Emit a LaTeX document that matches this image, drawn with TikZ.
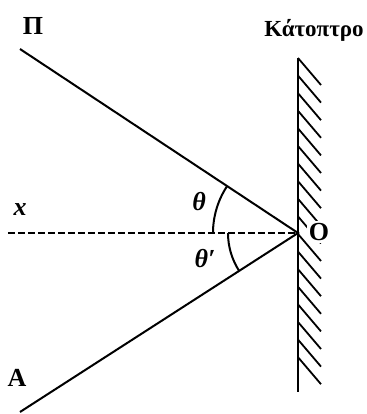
\documentclass[tikz,border=0pt]{standalone}
\usepackage{fontspec}
\setmainfont{Liberation Serif}
\usetikzlibrary{positioning}

\begin{document}
\begin{tikzpicture}[
x=0.5pt,y=0.5pt,
ray/.style={line width=1pt},
hatch/.style={line width=0.9pt},
axis/.style={line width=1.3pt,dash pattern=on 3.5pt off 1.5pt},
lbl/.style={font=\fontsize{13}{15}\selectfont\bfseries,inner sep=1pt},
ang/.style={font=\fontsize{13}{15}\selectfont\bfseries\itshape,inner sep=1pt}
]
\useasboundingbox (0,0) rectangle (366,414);
\coordinate (O) at (298,181);
\coordinate (P) at (20,365);
\coordinate (A) at (20,2);
\coordinate (X) at (8,181);
\coordinate (mtop) at (298,356);
\coordinate (mbot) at (298,22);

% mirror
\draw[ray] (mtop) -- (mbot);
\foreach \y in {356,338.4,...,50}
  \draw[hatch] (298,\y) -- ++(23,-27);

% rays and normal
\draw[ray] (P) -- (O) -- (A);
\draw[axis] (X) -- (O);
\draw[ray] (O) ++(180:85) arc[start angle=180,end angle=146.6,radius=85];
\draw[ray] (O) ++(180:70) arc[start angle=180,end angle=212.8,radius=70];

\node[lbl] (pi) at (33,388) {Π};
\node[lbl] (a) at (17,36) {A};
\node[lbl,fill=white] (o) at (319,182) {O};
\node[ang] (x) at (20,204) {x};
\node[ang] (th) at (199,212) {θ};
\node[ang] (th2) at (205,155) {θ′};
\node[lbl,font=\fontsize{11.5}{13}\selectfont\bfseries,anchor=base] (mirror) at (314,378) {Κάτοπτρο};
\end{tikzpicture}
\end{document}
